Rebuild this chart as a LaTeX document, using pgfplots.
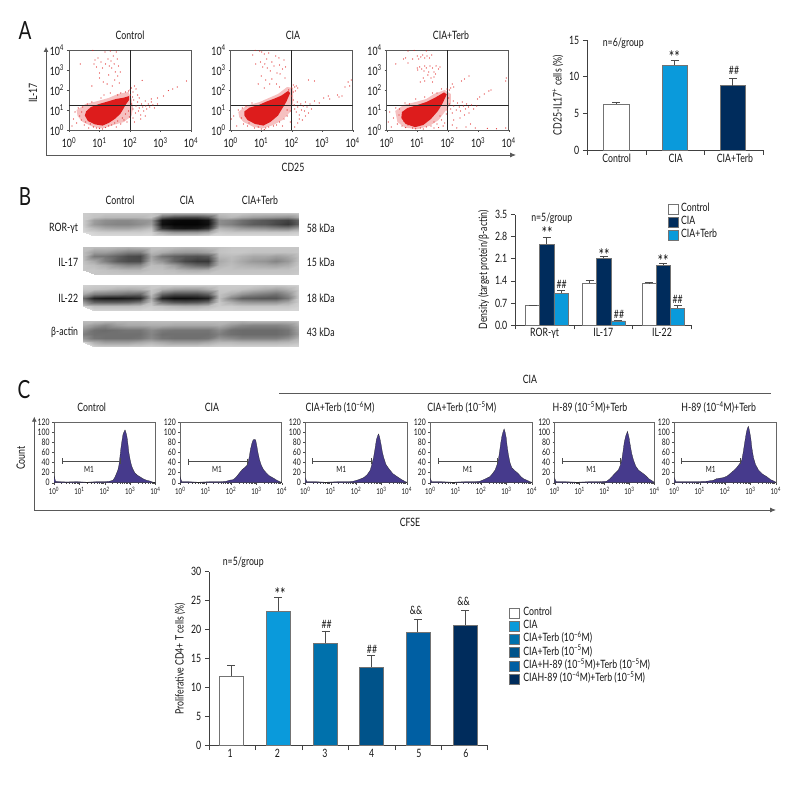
\documentclass[border=0pt]{standalone}
\usepackage{fontspec}
\setmainfont[FakeStretch=0.76]{Lato}
\usepackage{pgfplots}
\pgfplotsset{compat=1.18}
\usetikzlibrary{arrows.meta}
\newcommand\fz[1]{\fontsize{#1}{#1}\selectfont}
% text placed in image pixels, y counted from the top
\newcommand\T[4][]{\node[inner sep=0pt,font=\fz{11.5},#1] at (#2pt,{(792-#3)*1pt}) {#4};}
\definecolor{txt}{HTML}{141414}
\definecolor{hist}{HTML}{463A8C}
\definecolor{fcred}{HTML}{DD1C1C}
\definecolor{cia}{HTML}{0A9ADB}
\definecolor{tsix}{HTML}{0071AC}
\definecolor{tfive}{HTML}{00538A}
\definecolor{hfive}{HTML}{005FA3}
\definecolor{navy}{HTML}{002C5C}
\pgfplotsset{
  tl/.style={/pgf/number format/assume math mode=true},
  fc/.style={scale only axis,width=122pt,height=80pt,xmin=0,xmax=4,ymin=0,ymax=4,
    xtick={0,1,2,3,4},ytick={0,1,2,3,4},tl,
    xticklabels={10\textsuperscript{0},10\textsuperscript{1},10\textsuperscript{2},10\textsuperscript{3},10\textsuperscript{4}},
    yticklabels={10\textsuperscript{0},10\textsuperscript{1},10\textsuperscript{2},10\textsuperscript{3},10\textsuperscript{4}},
    tick label style={font=\fz{11.5},text=txt},tick align=outside,major tick length=2pt,
    minor tick num=0,xtick pos=bottom,ytick pos=left,axis line style={draw=black!65,line width=.7pt},
    tick style={draw=black!70,line width=.4pt},
    xticklabel style={yshift=-2pt},yticklabel style={xshift=.5pt}},
  core/.style={draw=none,fill=fcred},
  halo/.style={draw=none,fill=fcred,fill opacity=.28},
  pts/.style={only marks,fcred,mark=*,mark size=.36pt,mark options={draw=none,fill=fcred,opacity=.75}},
  quad/.style={black!85,line width=.7pt},
  hs/.style={scale only axis,width=101.5pt,height=60.4pt,xmin=0,xmax=4,ymin=0,ymax=120,tl,
    xtick={0,1,2,3,4},ytick={0,20,40,60,80,100,120},
    xticklabels={10\textsuperscript{0},10\textsuperscript{1},10\textsuperscript{2},10\textsuperscript{3},10\textsuperscript{4}},
    minor xtick={.3,.48,.6,.7,.78,.85,.9,.95,1.3,1.48,1.6,1.7,1.78,1.85,1.9,1.95,2.3,2.48,2.6,2.7,2.78,2.85,2.9,2.95,3.3,3.48,3.6,3.7,3.78,3.85,3.9,3.95},
    minor tick length=1pt,
    tick align=outside,major tick length=2pt,xtick pos=bottom,ytick pos=left,
    xticklabel style={font=\fz{8},text=txt,yshift=1pt},yticklabel style={font=\fz{9},text=txt,xshift=1pt},
    axis line style={draw=black!60,line width=.6pt},tick style={draw=black!70,line width=.3pt}},
  hf/.style={fill=hist,draw=black!85,line width=.25pt},
  mone/.style={black!70,line width=.6pt,mark=|,mark size=3pt,mark options={black!70,line width=.6pt}},
  bars/.style={scale only axis,xmin=0,xmax=3,axis x line=bottom,axis y line=left,axis line style={-,draw=black!75,line width=.7pt},
    tl,tick align=outside,major tick length=4.5pt,tick style={draw=black!75,line width=.7pt},
    tick label style={font=\fz{11.5},text=txt},xticklabels={},
    extra x tick style={major tick length=0pt,tick style={draw=none}},
    every axis y label/.style={at={(ticklabel cs:0.5)},rotate=90,anchor=south,font=\fz{11.5},text=txt,yshift=-1pt},
    legend image code/.code={\draw[#1] (0pt,-5pt) rectangle (10pt,5pt);},
    legend cell align=left},
  b/.style 2 args={mark=none,ybar,bar shift=0pt,bar width=#1,fill=#2,draw=black!55,line width=.6pt,
    error bars/y dir=plus,error bars/y explicit,error bars/error bar style={black!70,line width=.7pt},
    error bars/error mark options={rotate=90,mark size=4pt,black!70,line width=.7pt}},
  blot/.style={scale only axis,width=216.3pt,hide axis,xmin=0,xmax=19,ymin=-6,ymax=0,
    colormap/blackwhite,point meta min=0,point meta max=100},
  blotp/.style={surf,shader=interp,mesh/cols=20,point meta=explicit},
  table/blott/.style={row sep=crcr,header=false,x expr={mod(\coordindex,20)},y expr={-int(\coordindex/20)},meta index=0}
}
\begin{document}
\begin{tikzpicture}[every node/.append style={text=txt}]
\path[use as bounding box] (0pt,0pt) rectangle (792pt,792pt);

% ------- A
\T[font=\fz{25}]{25}{31}{A}
\T{130}{35.5}{Control} \T{293}{35.5}{CIA} \T{451}{35.5}{CIA+Terb}
\T[rotate=90]{33}{93}{IL-17} \T{293}{167}{CD25}
\draw[black!65,line width=.8pt,{Latex[length=5pt,width=5pt]}-{Latex[length=6pt,width=5pt]}] (46pt,745pt) |- (516pt,637pt);

\begin{axis}[fc,at={(69pt,662pt)}]
\addplot[halo] coordinates {(.25,1.0)(.55,1.3)(.95,1.45)(1.3,1.6)(1.6,1.8)(1.95,1.9)(2.05,1.55)(2.1,1.1)(2.05,.7)(1.8,.4)(1.45,.25)(1.1,.08)(.8,.15)(.45,.4)(.28,.7)} -- cycle;
\addplot[core] coordinates {(.56,.93)(.72,1.15)(.99,1.3)(1.26,1.42)(1.54,1.55)(1.81,1.62)(1.97,1.7)(1.97,1.5)(1.85,1.25)(1.78,1.05)(1.68,.8)(1.5,.55)(1.3,.35)(1.10,.22)(.85,.28)(.62,.45)(.52,.72)} -- cycle;
\addplot[pts] coordinates {
(.37,3.3)(.78,3.98)(.82,3.3)(.85,3.5)(.9,3.15)(.95,3.6)(1.0,2.85)(1.05,3.4)(1.1,3.1)(1.12,2.4)(1.18,3.9)(1.2,3.3)(1.25,2.3)(1.28,3.55)(1.3,2.75)(1.32,3.2)
(1.35,3.95)(1.38,3.45)(1.4,3.1)(1.42,2.2)(1.45,3.7)(1.48,3.3)(1.5,2.5)(1.52,2.9)(1.55,3.9)(1.58,3.55)(1.6,2.7)(1.62,3.2)(1.65,2.35)(1.68,2.9)(.75,2.2)(1.0,2.6)
(2.4,2.48)(2.05,2.1)(2.1,1.9)(2.15,2.2)(2.2,2.05)(2.0,2.0)(2.25,1.75)(2.3,1.6)(3.26,1.97)(3.4,2.05)(3.55,2.15)(3.1,1.7)(2.9,1.6)(2.7,1.55)(3.85,2.45)
(2.05,1.3)(2.1,1.05)(2.12,1.5)(2.18,.85)(2.2,1.2)(2.25,1.4)(2.28,.95)(2.3,1.1)(2.35,.75)(2.38,1.3)(2.42,1.15)(2.45,.95)(2.5,1.45)(2.52,1.2)(2.55,1.05)(2.6,1.3)
(2.65,1.15)(2.7,1.4)(2.75,1.25)(2.8,1.1)(2.35,.55)(2.1,.6)(2.15,.4)(2.02,1.75)(2.08,1.65)(2.9,1.3)(2.5,.7)
(.1,.2)(.15,.55)(.2,.9)(.25,.35)(.3,1.1)(.35,.7)(.4,.5)(.42,.9)(.45,1.15)(.5,.25)(.55,.4)(.6,1.3)(.65,.1)(.7,.3)(.75,1.4)(.8,.15)(.9,.1)(1,.08)(1.05,1.6)(1.1,.05)
(1.15,1.75)(1.2,.12)(1.3,.2)(1.35,1.85)(1.4,.25)(1.5,.35)(1.55,.15)(1.6,.45)(1.7,.3)(1.75,.6)(1.8,.5)(1.85,.8)(1.9,.4)(1.95,.95)(1.98,.65)(1.6,1.75)(1.7,1.85)(1.85,1.9)(1.95,1.95)};
\addplot[quad] coordinates {(2,0)(2,4)};
\addplot[quad] coordinates {(0,1.23)(4,1.23)};
\end{axis}

\begin{axis}[fc,at={(230.7pt,662pt)}]
\addplot[halo] coordinates {(.25,.9)(.5,1.2)(.95,1.4)(1.25,1.6)(1.55,1.8)(1.85,2.15)(2.05,2.1)(2.05,1.4)(1.95,.9)(1.7,.5)(1.4,.25)(1.05,.08)(.75,.15)(.42,.4)(.28,.65)} -- cycle;
\addplot[core] coordinates {(.45,.93)(.62,1.12)(.92,1.25)(1.17,1.42)(1.45,1.58)(1.66,1.72)(1.88,1.95)(1.95,1.85)(1.82,1.4)(1.68,1.05)(1.55,.72)(1.3,.4)(1.07,.22)(.8,.3)(.55,.5)(.45,.72)} -- cycle;
\addplot[pts] coordinates {
(.72,3.75)(.8,3.98)(.95,3.95)(1.02,3.9)(1.1,3.8)(.98,3.4)(1.05,3.15)(1.12,3.3)(1.18,3.55)(1.2,3.1)(1.25,3.85)(1.3,2.95)(1.35,3.4)(1.42,3.2)(1.48,3.7)(1.52,2.85)
(1.6,3.25)(1.62,2.8)(1.7,3.05)(1.75,3.5)(1.78,2.6)(1.35,2.55)(1.28,2.3)(1.15,2.5)(1.1,2.1)(.9,2.3)(1.0,2.7)(1.5,2.3)(1.6,2.15)(1.8,3.15)(.82,3.3)(1.58,3.6)
(2.55,2.5)(2.75,2.45)(2.0,2.1)(2.05,2.25)(2.1,2.15)(2.12,1.95)(2.15,2.2)(2.05,1.9)(2.2,2.1)(3.05,1.6)(3.2,1.7)(3.25,1.55)(3.5,1.75)(3.55,1.65)(3.65,1.7)(3.75,2.15)(3.85,2.4)(3.95,2.5)(3.9,2.2)
(2.05,1.5)(2.08,1.25)(2.1,1.05)(2.15,.9)(2.18,1.4)(2.2,1.15)(2.25,.75)(2.3,1.3)(2.32,1.0)(2.38,1.2)(2.42,.95)(2.45,1.4)(2.5,1.15)(2.55,.85)(2.6,1.3)(2.35,.5)(2.2,.35)(2.25,.55)(2.75,1.45)(2.9,1.35)(2.65,1.05)(2.1,.15)(2.45,.7)
(.02,.55)(.1,.7)(.2,.2)(.25,1.0)(.35,.6)(.38,1.1)(.42,.3)(.5,1.2)(.55,.2)(.6,.35)(.7,1.35)(.78,.1)(.9,.15)(1.0,.05)(1.1,.02)(1.15,.1)(1.25,.15)(1.4,.2)(1.5,.25)(1.6,.4)(1.7,.2)(1.75,.55)(1.85,.7)(1.95,.4)(1.85,1.0)(1.95,.95)(1.8,1.75)(2.0,1.7)(1.9,2.0)};
\addplot[quad] coordinates {(2,0)(2,4)};
\addplot[quad] coordinates {(0,1.23)(4,1.23)};
\end{axis}

\begin{axis}[fc,at={(386.7pt,662pt)}]
\addplot[halo] coordinates {(.28,.95)(.55,1.25)(.95,1.4)(1.3,1.55)(1.55,1.8)(1.9,2.0)(2.1,1.8)(2.1,1.3)(1.9,.9)(1.7,.5)(1.4,.2)(1.0,.04)(.6,.12)(.35,.4)} -- cycle;
\addplot[core] coordinates {(.5,.90)(.68,1.1)(.95,1.22)(1.3,1.4)(1.59,1.62)(1.88,1.88)(1.97,1.78)(1.82,1.3)(1.68,.95)(1.45,.55)(1.2,.25)(.93,.14)(.62,.3)(.48,.6)} -- cycle;
\addplot[pts] coordinates {
(.3,3.3)(.55,3.55)(.62,3.6)(.7,3.35)(.85,3.55)(1.0,3.7)(1.05,3.55)(1.12,3.65)(1.18,3.75)(1.25,3.6)(1.32,3.7)(1.4,3.6)(1.48,3.75)(1.0,3.1)(1.02,3.0)(1.08,3.15)
(1.15,3.05)(1.22,2.95)(1.25,3.2)(1.3,3.1)(1.38,2.9)(1.42,3.2)(1.5,3.1)(1.55,2.9)(1.62,3.2)(1.7,3.05)(1.75,3.15)(1.2,2.6)(1.25,2.45)(1.35,2.75)(1.45,2.6)(1.5,2.4)(1.55,2.65)(1.1,2.4)(1.6,2.8)(1.3,3.95)(.7,3.95)(.9,3.98)
(2.15,2.3)(2.2,2.15)(2.05,2.0)(2.1,2.1)(2.45,2.45)(2.55,2.55)(2.7,2.7)(3.05,1.65)(3.2,1.8)(3.35,1.95)(3.42,2.0)(3.9,2.45)(3.92,2.6)(2.98,1.55)
(2.03,1.6)(2.05,1.3)(2.1,1.05)(2.15,.85)(2.18,1.45)(2.2,1.2)(2.28,1.0)(2.32,1.35)(2.38,1.15)(2.42,.95)(2.48,1.4)(2.52,1.2)(2.58,1.05)(2.62,1.3)(2.68,1.15)(2.7,.85)(2.78,1.25)(2.85,1.05)(2.55,.75)(2.4,.6)(2.2,.5)(2.15,.25)(2.6,.15)(2.9,.1)(3.3,.08)(3.6,.06)(3.9,.1)(2.75,.3)(2.3,.1)(2.95,1.2)
(.05,.4)(.1,.9)(.15,.15)(.22,.6)(.3,1.1)(.35,.3)(.4,.75)(.42,1.05)(.5,.2)(.55,.45)(.62,.12)(.7,.25)(.75,1.3)(.85,.1)(.95,.06)(1.1,.1)(1.2,.05)(1.3,.15)(1.45,.2)(1.55,.4)(1.65,.3)(1.75,.7)(1.8,.5)(1.9,.35)(1.95,.8)(1.98,1.0)(1.85,.2)(1.55,.1)(1.7,.12)(1.25,1.65)(1.5,1.85)(1.65,1.85)(1.8,2.05)(1.98,2.05)(.6,1.35)(.95,1.55)};
\addplot[quad] coordinates {(2,0)(2,4)};
\addplot[quad] coordinates {(0,1.23)(4,1.23)};
\end{axis}

\begin{axis}[bars,at={(587.3pt,641.7pt)},width=176pt,height=110.3pt,ymin=0,ymax=15,
  xtick={0,1,2,3},ytick={0,5,10,15},extra x ticks={.5,1.507,2.516},extra x tick labels={Control,CIA,CIA+Terb},
  ylabel={CD25-IL17\textsuperscript{+} cells (\%)}]
\addplot[b={25.8pt}{white}] coordinates {(.49,6.3) +- (0,.2)};
\addplot[b={25.8pt}{cia}] coordinates {(1.49,11.6) +- (0,.6)};
\addplot[b={25.8pt}{navy}] coordinates {(2.48,8.8) +- (0,1.0)};
\end{axis}
\T{623.3}{43.3}{n=6/group}
\T[font=\fz{17}]{674.3}{56.8}{**} \T{734}{70}{\#\#}

% ------- B
\T[font=\fz{25}]{25}{197}{B}
\T{120}{200}{Control} \T{187}{200}{CIA} \T{260}{200}{CIA+Terb}
\T[anchor=east]{78.3}{228}{ROR-γt} \T[anchor=east]{78.3}{262}{IL-17} \T[anchor=east]{78.3}{298}{IL-22} \T[anchor=east]{78.3}{332.7}{β-actin}
\T[anchor=west]{306.7}{228}{58 kDa} \T[anchor=west]{306.7}{262}{15 kDa} \T[anchor=west]{306.7}{298}{18 kDa} \T[anchor=west]{306.7}{332.7}{43 kDa}

\begin{axis}[blot,at={(82.7pt,556pt)},height=23.3pt]
\addplot[blotp] table[blott] {
80\\78\\78\\78\\78\\78\\78\\72\\70\\70\\70\\72\\76\\78\\78\\76\\76\\76\\76\\78\\
80\\76\\72\\72\\72\\72\\76\\40\\30\\28\\28\\35\\68\\72\\66\\62\\60\\58\\56\\66\\
80\\62\\56\\54\\54\\58\\60\\8\\4\\3\\3\\8\\55\\52\\44\\38\\34\\30\\26\\40\\
80\\60\\54\\52\\52\\56\\62\\6\\2\\2\\2\\6\\55\\50\\42\\36\\34\\28\\22\\38\\
82\\72\\66\\64\\64\\68\\74\\20\\10\\8\\10\\20\\70\\66\\60\\58\\56\\52\\50\\62\\
84\\82\\80\\80\\80\\80\\82\\66\\58\\58\\58\\64\\80\\78\\78\\78\\78\\78\\78\\80\\
86\\86\\86\\86\\86\\86\\86\\84\\82\\82\\82\\84\\86\\86\\86\\86\\86\\86\\86\\86\\
};
\end{axis}
\begin{axis}[blot,at={(82.7pt,517.7pt)},height=27pt]
\addplot[blotp] table[blott] {
76\\74\\74\\72\\70\\72\\76\\76\\74\\72\\72\\74\\76\\78\\78\\78\\78\\78\\78\\78\\
74\\62\\62\\56\\50\\50\\72\\68\\62\\60\\60\\64\\76\\78\\78\\76\\76\\76\\76\\78\\
74\\48\\46\\38\\30\\28\\64\\46\\38\\34\\32\\36\\72\\74\\70\\66\\66\\62\\66\\76\\
76\\66\\50\\36\\30\\30\\68\\58\\40\\28\\22\\22\\66\\72\\66\\60\\58\\52\\60\\76\\
78\\74\\68\\58\\52\\54\\74\\72\\62\\48\\40\\38\\70\\74\\70\\68\\66\\64\\68\\78\\
78\\78\\76\\74\\72\\72\\76\\76\\74\\70\\68\\70\\76\\76\\76\\76\\76\\76\\76\\78\\
78\\78\\78\\78\\78\\78\\78\\78\\78\\78\\78\\78\\78\\78\\78\\78\\78\\78\\78\\80\\
};
\end{axis}
\begin{axis}[blot,at={(82.7pt,481.3pt)},height=25.7pt]
\addplot[blotp] table[blott] {
82\\80\\80\\80\\80\\80\\80\\80\\80\\80\\80\\80\\80\\80\\80\\80\\78\\78\\80\\82\\
78\\76\\74\\70\\68\\70\\78\\70\\64\\62\\62\\68\\78\\78\\76\\72\\68\\64\\70\\80\\
66\\50\\48\\46\\42\\40\\74\\40\\30\\30\\30\\38\\76\\68\\58\\52\\48\\44\\56\\80\\
42\\14\\10\\10\\12\\16\\66\\14\\6\\6\\8\\14\\74\\52\\38\\36\\34\\34\\48\\80\\
60\\38\\36\\36\\38\\46\\74\\44\\34\\32\\34\\42\\78\\68\\60\\58\\58\\58\\66\\80\\
78\\74\\74\\74\\74\\76\\80\\76\\72\\70\\70\\74\\80\\80\\78\\78\\78\\78\\78\\82\\
84\\84\\84\\84\\84\\84\\84\\84\\84\\84\\84\\84\\84\\84\\84\\84\\84\\84\\84\\84\\
};
\end{axis}
\begin{axis}[blot,at={(82.7pt,445.3pt)},height=25.7pt]
\addplot[blotp] table[blott] {
74\\74\\72\\72\\72\\72\\74\\74\\74\\74\\74\\74\\74\\72\\70\\72\\72\\72\\72\\76\\
68\\60\\54\\62\\66\\66\\68\\68\\66\\66\\66\\66\\68\\60\\54\\52\\52\\52\\56\\70\\
56\\44\\42\\44\\46\\46\\54\\48\\46\\46\\46\\46\\54\\44\\42\\42\\42\\42\\46\\64\\
50\\44\\44\\44\\44\\44\\52\\44\\44\\44\\44\\44\\50\\44\\42\\42\\42\\42\\46\\62\\
58\\46\\44\\44\\44\\46\\54\\46\\44\\44\\44\\46\\58\\54\\50\\50\\50\\50\\56\\70\\
74\\68\\62\\62\\62\\66\\70\\66\\62\\62\\62\\66\\72\\72\\70\\70\\70\\70\\72\\76\\
84\\84\\82\\82\\82\\82\\84\\82\\82\\82\\82\\82\\84\\84\\84\\84\\84\\84\\84\\84\\
};
\end{axis}

\begin{axis}[bars,at={(515.3pt,467pt)},width=176pt,height=110.3pt,ymin=0,ymax=3.5,
  xtick={0,1,2,3},ytick={0,.7,1.4,2.1,2.8,3.5},yticklabel style={/pgf/number format/fixed,/pgf/number format/fixed zerofill,/pgf/number format/precision=1},
  extra x ticks={.5,1.5,2.5},extra x tick labels={ROR-γt,IL-17,IL-22},
  ylabel={Density (target protein/β-actin)},clip=false,
  legend style={draw=none,fill=none,at={(.869,1.106)},anchor=north west,inner sep=0pt,
    nodes={inner sep=0pt,text height=8.7pt,text depth=4pt,font=\fz{11.5},text=txt},column sep=2pt}]
\addplot[b={14.3pt}{white}] coordinates {(.295,.62) +- (0,.01) (1.267,1.32) +- (0,.09) (2.284,1.31) +- (0,.03)};
\addlegendentry{Control}
\addplot[b={14.3pt}{navy}] coordinates {(.537,2.56) +- (0,.22) (1.508,2.11) +- (0,.08) (2.526,1.90) +- (0,.05)};
\addlegendentry{CIA}
\addplot[b={14.3pt}{cia}] coordinates {(.781,1.01) +- (0,.10) (1.753,.13) +- (0,.02) (2.767,.53) +- (0,.09)};
\addlegendentry{CIA+Terb}
\end{axis}
\T{551.7}{218.3}{n=5/group}
\T[font=\fz{17}]{547}{233.5}{**} \T{561.7}{284.3}{\#\#} \T[font=\fz{17}]{604}{255.5}{**} \T{619}{314}{\#\#} \T[font=\fz{17}]{663}{261.5}{**} \T{677.7}{299}{\#\#}

% ------- C
\T[font=\fz{25}]{24}{390}{C}
\T{530}{379}{CIA}
\draw[black!65,line width=.7pt] (279.3pt,398.3pt) -- (771pt,398.3pt);
\T{91.7}{407.7}{Control} \T{212}{407.7}{CIA} \T{340}{407.7}{CIA+Terb (10\textsuperscript{−6}M)} \T{461.7}{407.7}{CIA+Terb (10\textsuperscript{−5}M)}
\T{590}{407.7}{H-89 (10\textsuperscript{−5}M)+Terb} \T{718.7}{407.7}{H-89 (10\textsuperscript{−4}M)+Terb}
\T[rotate=90]{20.7}{458}{Count} \T{410}{522}{CFSE}
\draw[black!65,line width=.8pt,{Latex[length=5pt,width=5pt]}-{Latex[length=6pt,width=5pt]}] (34.3pt,375.3pt) |- (776pt,282pt);

\begin{axis}[hs,at={(54pt,309.3pt)}]
\addplot[hf] coordinates {(0,0)(0,14)(.03,9)(.06,3)(.2,2)(.5,1.5)(.9,2)(1.3,1)(1.7,2)(2.0,2)(2.2,3)(2.33,5)(2.4,11)(2.46,18)(2.52,26)(2.56,35)(2.6,52)(2.64,70)(2.68,84)(2.72,96)(2.76,101)(2.8,105)(2.84,99)(2.88,90)(2.92,74)(2.95,60)(3.0,46)(3.05,35)(3.1,28)(3.18,20)(3.28,15)(3.38,12)(3.5,8)(3.64,5)(3.8,3)(3.9,1)(4,1)(4,0)} \closedcycle;
\addplot[mone] coordinates {(.33,43)(2.6,43)};
\node[font=\fz{8.5},text=txt] at (axis cs:1.38,27) {M1};
\end{axis}
\begin{axis}[hs,at={(180.3pt,309.3pt)}]
\addplot[hf] coordinates {(0,0)(0,12)(.03,6)(.06,2)(.3,2)(.7,1)(1.2,2)(1.6,2)(1.82,3)(1.95,5)(2.08,6)(2.2,11)(2.34,20)(2.44,26)(2.54,30)(2.62,34)(2.67,40)(2.72,52)(2.76,65)(2.82,78)(2.87,85)(2.92,86)(2.97,85)(3.02,72)(3.06,60)(3.12,46)(3.19,35)(3.28,26)(3.38,20)(3.5,14)(3.64,10)(3.8,5)(3.97,1)(4,1)(4,0)} \closedcycle;
\addplot[mone] coordinates {(.31,42)(2.64,42)};
\node[font=\fz{8.5},text=txt] at (axis cs:1.45,27) {M1};
\end{axis}
\begin{axis}[hs,at={(305.3pt,309.3pt)}]
\addplot[hf] coordinates {(0,0)(0,10)(.03,6)(.06,2)(.4,2)(.8,1)(1.3,2)(1.7,2)(1.9,3)(2.1,6)(2.3,10)(2.44,16)(2.56,25)(2.62,36)(2.69,50)(2.75,68)(2.8,85)(2.85,93)(2.89,97)(2.94,88)(2.99,75)(3.04,60)(3.09,50)(3.18,36)(3.29,28)(3.45,18)(3.62,12)(3.8,6)(3.95,2)(4,1)(4,0)} \closedcycle;
\addplot[mone] coordinates {(.28,43)(2.61,43)};
\node[font=\fz{8.5},text=txt] at (axis cs:1.42,27) {M1};
\end{axis}
\begin{axis}[hs,at={(430.3pt,309.3pt)}]
\addplot[hf] coordinates {(0,0)(0,9)(.03,5)(.06,2)(.4,2)(.9,1)(1.4,2)(1.75,2)(1.96,3)(2.15,7)(2.35,12)(2.45,18)(2.55,25)(2.62,34)(2.68,45)(2.73,62)(2.78,80)(2.82,92)(2.86,100)(2.91,107)(2.95,100)(2.99,90)(3.03,72)(3.08,55)(3.14,40)(3.21,30)(3.33,24)(3.47,18)(3.57,12)(3.67,8)(3.8,5)(3.93,2)(4,1)(4,0)} \closedcycle;
\addplot[mone] coordinates {(.33,43)(2.64,43)};
\node[font=\fz{8.5},text=txt] at (axis cs:1.48,27) {M1};
\end{axis}
\begin{axis}[hs,at={(554.7pt,309.3pt)},width=99.7pt]
\addplot[hf] coordinates {(0,0)(0,9)(.03,5)(.06,2)(.4,2)(.9,1)(1.4,2)(1.8,2)(2.09,3)(2.22,8)(2.35,15)(2.45,20)(2.55,25)(2.62,33)(2.69,45)(2.74,62)(2.79,80)(2.85,93)(2.92,102)(2.98,90)(3.03,75)(3.09,58)(3.16,45)(3.25,33)(3.36,25)(3.5,20)(3.63,15)(3.8,7)(3.96,2)(4,1)(4,0)} \closedcycle;
\addplot[mone] coordinates {(.29,43)(2.64,43)};
\node[font=\fz{8.5},text=txt] at (axis cs:1.47,27) {M1};
\end{axis}
\begin{axis}[hs,at={(674.3pt,309.3pt)}]
\addplot[hf] coordinates {(0,0)(0,11)(.03,6)(.06,2)(.4,2)(.9,2)(1.3,3)(1.55,5)(1.67,8)(1.93,10)(2.08,13)(2.2,18)(2.34,24)(2.46,30)(2.58,38)(2.66,45)(2.72,62)(2.79,85)(2.84,100)(2.88,108)(2.92,112)(2.96,104)(3.01,90)(3.06,68)(3.12,50)(3.2,36)(3.32,25)(3.48,17)(3.64,12)(3.8,6)(3.97,2)(4,1)(4,0)} \closedcycle;
\addplot[mone] coordinates {(.29,43)(2.62,43)};
\node[font=\fz{8.5},text=txt] at (axis cs:1.44,27) {M1};
\end{axis}

\begin{axis}[bars,at={(209.3pt,46.3pt)},width=278.4pt,height=174pt,xmax=6,ymin=0,ymax=30,
  xtick={0,1,2,3,4,5,6},ytick={0,5,10,15,20,25,30},extra x ticks={.45,1.47,2.49,3.5,4.52,5.53},extra x tick labels={1,2,3,4,5,6},
  ylabel={Proliferative CD4+ T cells (\%)},clip=false,
  legend style={draw=none,fill=none,at={(1.0766,.803)},anchor=north west,inner sep=0pt,
    nodes={inner sep=0pt,text height=9pt,text depth=4.3pt,font=\fz{11.5},text=txt},column sep=3.5pt}]
\addplot[b={24pt}{white}] coordinates {(.474,12.0) +- (0,1.8)};
\addlegendentry{Control}
\addplot[b={24pt}{cia}] coordinates {(1.484,23.2) +- (0,2.4)};
\addlegendentry{CIA}
\addplot[b={24pt}{tsix}] coordinates {(2.507,17.7) +- (0,2.1)};
\addlegendentry{CIA+Terb (10\textsuperscript{−6}M)}
\addplot[b={24pt}{tfive}] coordinates {(3.488,13.6) +- (0,2.0)};
\addlegendentry{CIA+Terb (10\textsuperscript{−5}M)}
\addplot[b={24pt}{hfive}] coordinates {(4.494,19.6) +- (0,2.1)};
\addlegendentry{CIA+H-89 (10\textsuperscript{−5}M)+Terb (10\textsuperscript{−5}M)}
\addplot[b={24pt}{navy}] coordinates {(5.514,20.8) +- (0,2.5)};
\addlegendentry{CIAH-89 (10\textsuperscript{−4}M)+Terb (10\textsuperscript{−5}M)}
\end{axis}
\T{243.3}{562.3}{n=5/group}
\T[font=\fz{17}]{280}{594.2}{**} \T{326.7}{624}{\#\#} \T{372}{649.3}{\#\#} \T{416}{610}{\&\&} \T{463.7}{601}{\&\&}
\end{tikzpicture}
\end{document}
